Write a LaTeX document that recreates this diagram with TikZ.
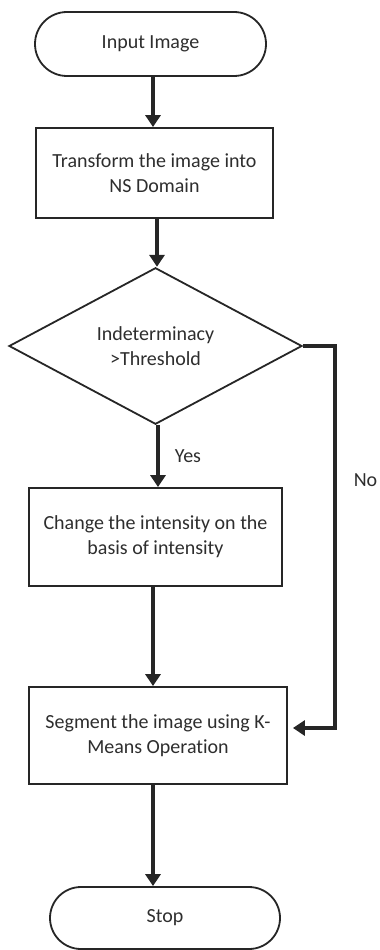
\documentclass[tikz,border=0pt]{standalone}
\usepackage{fontspec}
\setmainfont{Carlito}[Ligatures={NoCommon}]
\usetikzlibrary{shapes.geometric,shapes.misc,arrows.meta}
\definecolor{ink}{HTML}{262626}
\definecolor{txt}{HTML}{2E2E2E}
\tikzset{
  base/.style={draw=ink, line width=1.8pt, fill=white, text=txt, align=center,
    font=\fontsize{20}{25}\selectfont, inner sep=0pt},
  term/.style={base, rounded rectangle},
  procbox/.style={base, rectangle},
  decis/.style={base, diamond},
  conn/.style={draw=ink, line width=4.6pt, -{Triangle[length=12pt,width=15pt]}},
  lbl/.style={text=txt, font=\fontsize{20}{25}\selectfont, inner sep=0pt}
}
\begin{document}
\begin{tikzpicture}[x=1pt,y=-1pt]
\useasboundingbox (0,0) rectangle (380,950);
\node[term, minimum width=231pt, minimum height=64pt] (inp) at (150.5,44) {Input Image};
\node[procbox, minimum width=237pt, minimum height=90pt] (tra) at (154.5,173) {Transform the image into\\NS Domain};
\node[decis, minimum width=293pt, minimum height=132pt] (dia) at (155.5,346) {Indeterminacy\\>Threshold};
\node[procbox, minimum width=253pt, minimum height=98pt] (chg) at (155.5,537) {Change the intensity on the\\basis of intensity};
\node[procbox, minimum width=258pt, minimum height=97pt] (seg) at (158,735.5) {Segment the image using K-\\Means Operation};
\node[term, minimum width=230pt, minimum height=62pt] (stp) at (165,918) {Stop};
\node[lbl] (yes) at (188,456) {Yes};
\node[lbl] (no) at (365.5,480) {No};
\coordinate (c1) at (335,346);
\coordinate (c2) at (335,728);
\draw[conn] ([xshift=2.5pt]inp.south) -- ([xshift=-1.5pt]tra.north);
\draw[conn] ([xshift=2.5pt]tra.south) -- ([xshift=1.5pt]dia.north);
\draw[conn] ([xshift=2.5pt]dia.south) -- ([xshift=2.5pt]chg.north);
\draw[conn] ([xshift=-2.5pt]chg.south) -- ([xshift=-5pt]seg.north);
\draw[conn] ([xshift=-5pt]seg.south) -- ([xshift=-12pt]stp.north);
\draw[conn] (dia.east) -- (c1) -- (c2) -- ([xshift=5pt,yshift=7.5pt]seg.east);
\end{tikzpicture}
\end{document}
